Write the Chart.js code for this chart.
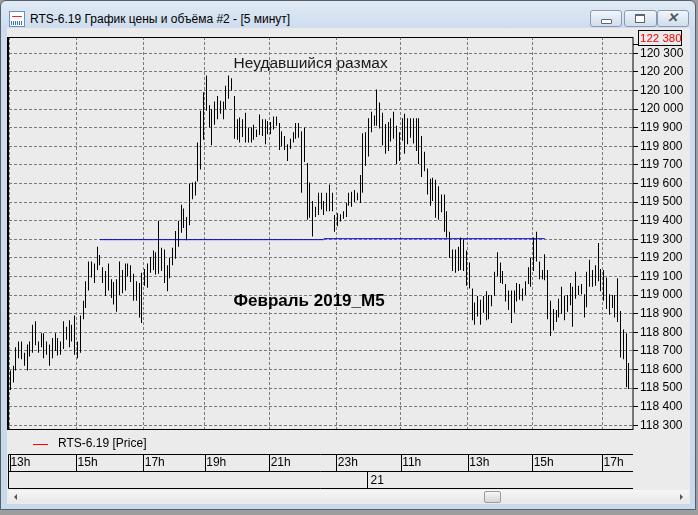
<!DOCTYPE html>
<html>
<head>
<meta charset="utf-8">
<script src="https://cdn.jsdelivr.net/npm/chart.js@4.4.1/dist/chart.umd.min.js"></script>
<style>
  body { margin: 0; width: 698px; height: 515px; overflow: hidden; background: #9d9d9d;
         font-family: "Liberation Sans", Arial, sans-serif; }
  #win { position: absolute; left: 0; top: 0; width: 694px; height: 508px;
         border: 1px solid #55606e; border-radius: 6px 6px 0 0;
         background: linear-gradient(#e1eaf5, #cddcee 28px, #c9d9ec); }
  #client { position: absolute; left: 7px; top: 28px; width: 683px; height: 476px; background: #ebebeb; }
  #title { position: absolute; left: 30px; top: 12px; font-size: 12px; color: #000; white-space: nowrap; }
  #icon { position: absolute; left: 9px; top: 11px; width: 14px; height: 14px; background: #fff; border: 1px solid #6d8fc0; }
  #icon i { position: absolute; left: 2px; top: 4px; width: 10px; height: 1px; background: #e0302a; }
  #icon b { position: absolute; left: 1px; top: 9px; width: 12px; height: 4px; background: repeating-linear-gradient(90deg, #3a6fc4 0 1px, #fff 1px 2px); }
  .btn { position: absolute; top: 10px; height: 15px; border: 1px solid #8a9ab0; border-radius: 3px;
         background: linear-gradient(#f4f7fb, #dfe8f3 50%, #d2ddeb); }
  #bmin { left: 590px; width: 30px; }
  #bres { left: 624px; width: 31px; }
  #bcls { left: 657px; width: 30px; }
  #bmin i { position: absolute; left: 10px; top: 8px; width: 9px; height: 3px; border: 1px solid #5b6675; background: #fff; border-radius: 1px; }
  #bres i { position: absolute; left: 10px; top: 3px; width: 8px; height: 6px; border: 1px solid #5b6675; border-top-width: 2px; background: #fff; }
  #bcls i { position: absolute; left: 9px; top: -1px; font-size: 13px; font-weight: bold; color: #4d5866; }
  #scroll { position: absolute; left: 9px; top: 490px; width: 680px; height: 13px; background: linear-gradient(#f6f6f6, #e8e8e8); }
  #thumb { position: absolute; left: 484px; top: 491px; width: 15px; height: 10px; border: 1px solid #9b9b9b;
           border-radius: 2px; background: linear-gradient(#f7f7f7, #d6d6d6); }
  .arr { position: absolute; top: 494px; width: 0; height: 0; border-top: 3px solid transparent; border-bottom: 3px solid transparent; }
  #al { left: 14px; border-right: 3px solid #555; }
  #ar { left: 680px; border-left: 3px solid #555; }
  canvas { position: absolute; left: 0; top: 0; }
</style>
</head>
<body>
<div id="win"></div>
<div id="client"></div>
<div id="icon"><i></i><b></b></div>
<div id="title">RTS-6.19 График цены и объёма #2 - [5 минут]</div>
<div class="btn" id="bmin"><i></i></div>
<div class="btn" id="bres"><i></i></div>
<div class="btn" id="bcls"><i>✕</i></div>
<div id="scroll"></div>
<div class="arr" id="al"></div>
<div class="arr" id="ar"></div>
<div id="thumb"></div>
<canvas id="chart" width="698" height="515"></canvas>
<script>
// 5-minute bars, high and low of each bar
const highs = [
  118595, 118620, 118720, 118750, 118750, 118690, 118735, 118750, 118840, 118860,
  118750, 118795, 118795, 118750, 118735, 118770, 118795, 118770, 118750, 118860,
  118830, 118865, 118840, 118890, 118750, 118890, 118970, 119075, 119180, 119180,
  119170, 119260, 119215, 119150, 119130, 119170, 119085, 119070, 119085, 119180,
  119135, 119170, 119170, 119160, 119115, 119075, 119065, 119120, 119140, 119170,
  119205, 119240, 119230, 119400, 119255, 119245, 119160, 119200, 119255, 119345,
  119400, 119485, 119465, 119420, 119600, 119605, 119610, 119820, 119990, 120090,
  120180, 120020, 120000, 120040, 120070, 120045, 120040, 120125, 120180, 120165,
  120070, 119945, 119955, 119945, 119980, 119900, 119900, 119915, 119890, 119970,
  119945, 119945, 119935, 119930, 119960, 119960, 119925, 119880, 119855, 119810,
  119840, 119875, 119925, 119925, 119880, 119900, 119710, 119605, 119505, 119475,
  119550, 119550, 119505, 119550, 119595, 119550, 119430, 119440, 119435, 119450,
  119495, 119550, 119555, 119565, 119550, 119645, 119870, 119875, 119950, 119985,
  119965, 120105, 120035, 119980, 119920, 119930, 119950, 119985, 119910, 119875,
  119950, 119975, 119950, 119950, 119950, 119950, 119950, 119855, 119770, 119680,
  119625, 119630, 119620, 119585, 119540, 119540, 119450, 119340, 119245, 119245,
  119260, 119310, 119300, 119240, 119175, 119035, 118960, 118995, 118975, 118995,
  119020, 119000, 119000, 119125, 119230, 119175, 119130, 119060, 119025, 119025,
  119025, 119065, 119060, 119035, 119075, 119150, 119200, 119310, 119340, 119180,
  119135, 119220, 119135, 118970, 118925, 118920, 118980, 119045, 118995, 119000,
  119065, 119045, 119125, 119050, 119060, 119005, 119125, 119190, 119135, 119160,
  119280, 119140, 119135, 119095, 119005, 119000, 119000, 119090, 118915, 118815,
  118795, 118635
];
const lows = [
  118490, 118530, 118595, 118660, 118655, 118620, 118595, 118670, 118690, 118730,
  118690, 118720, 118660, 118680, 118620, 118660, 118700, 118675, 118680, 118710,
  118760, 118720, 118750, 118680, 118660, 118690, 118870, 118930, 119025, 119095,
  119065, 119135, 119160, 119065, 118995, 119025, 118985, 118950, 118910, 119000,
  119010, 119025, 119100, 119070, 118970, 118970, 118880, 118850, 119050, 119040,
  119120, 119135, 119110, 119115, 119130, 119065, 119020, 119090, 119160, 119195,
  119260, 119335, 119360, 119295, 119375, 119515, 119535, 119610, 119675, 119835,
  119990, 119900, 119805, 119915, 119945, 119975, 119945, 120000, 120055, 120100,
  119840, 119835, 119820, 119850, 119820, 119820, 119820, 119835, 119850, 119860,
  119855, 119810, 119865, 119865, 119890, 119910, 119780, 119800, 119780, 119720,
  119785, 119820, 119840, 119845, 119550, 119715, 119405, 119415, 119315, 119420,
  119430, 119460, 119430, 119450, 119450, 119450, 119340, 119370, 119395, 119410,
  119420, 119480, 119475, 119500, 119510, 119495, 119550, 119695, 119745, 119875,
  119910, 119910, 119895, 119805, 119760, 119775, 119825, 119840, 119705, 119720,
  119830, 119760, 119810, 119845, 119815, 119775, 119705, 119635, 119665, 119540,
  119480, 119505, 119415, 119405, 119445, 119340, 119310, 119200, 119130, 119120,
  119130, 119135, 119130, 119050, 119035, 118865, 118840, 118885, 118840, 118905,
  118865, 118870, 118940, 118995, 119100, 119065, 119060, 118965, 118920, 118850,
  118905, 118965, 118975, 118970, 119000, 119060, 119045, 119130, 119180, 119085,
  119085, 119080, 118870, 118780, 118810, 118855, 118880, 118900, 118865, 118910,
  118945, 118830, 118980, 119000, 119005, 118880, 118935, 119045, 119045, 119050,
  119075, 119020, 118970, 118925, 118895, 118930, 118880, 118855, 118665, 118655,
  118505, 118495
];

// time axis: first bar of each labelled hour, and the day row
const hourLabels = ['13h', '15h', '17h', '19h', '21h', '23h', '11h', '13h', '15h', '17h'];
const hourStarts = [0, 24, 48, 70, 93, 117, 140, 164, 187, 212];
const dayLabels = ['21'];
const dayStarts = [128];

const yTicks = [118300, 118400, 118500, 118600, 118700, 118800, 118900, 119000, 119100, 119200, 119300,
                119400, 119500, 119600, 119700, 119800, 119900, 120000, 120100, 120200, 120300];
const lastPrice = '122 380';

// hand-drawn level lines: [from bar, to bar, price]
const levelA = [32, 112, 119298];
const levelB = [112, 191, 119303];
const notes = [
  { text: 'Неудавшийся размах', bar: 80, price: 120242, bold: false, size: 15.5 },
  { text: 'Февраль 2019_M5', bar: 80, price: 118966, bold: true, size: 17 }
];

const labels = Array.from({ length: highs.length + 1 }, (_, i) => i);
const fmt = v => String(v).replace(/(\d)(?=(\d{3})+$)/, '$1 ');

// keep the 1px price bars on whole pixels so they stay sharp
const snapPlugin = {
  id: 'snap',
  afterDatasetsUpdate(chart) {
    chart.getDatasetMeta(0).data.forEach(el => { el.x = Math.floor(el.x) + 0.5; });
  }
};

const framePlugin = {
  id: 'frame',
  afterDraw(chart) {
    const { ctx, chartArea: a, scales: { x, y } } = chart;
    const slot = x.getPixelForValue(1) - x.getPixelForValue(0);
    const edge = i => Math.round(x.getPixelForValue(i) - slot / 2) + 0.5;
    ctx.save();
    ctx.strokeStyle = '#000';
    ctx.lineWidth = 1;
    // plot border
    ctx.strokeRect(a.left - 0.5, a.top + 0.5, a.right - a.left + 0.5, a.bottom - a.top - 1);
    ctx.beginPath(); ctx.moveTo(a.left - 1.5, a.top); ctx.lineTo(a.left - 1.5, a.bottom); ctx.stroke();

    // last price box
    ctx.font = '11.5px "Liberation Sans", Arial, sans-serif';
    ctx.beginPath(); ctx.moveTo(a.right, 44.5); ctx.lineTo(a.right + 5, 44.5); ctx.stroke();
    ctx.strokeRect(638.5, 30.5, 43, 15);
    ctx.fillStyle = '#ff0000';
    ctx.textBaseline = 'middle';
    ctx.textAlign = 'left';
    ctx.fillText(lastPrice, 640, 38.5);

    // legend
    ctx.font = '12px "Liberation Sans", Arial, sans-serif';
    const ds = chart.data.datasets[0];
    ctx.strokeStyle = '#ff0000';
    ctx.beginPath(); ctx.moveTo(33, 444.5); ctx.lineTo(48, 444.5); ctx.stroke();
    ctx.fillStyle = '#000';
    ctx.fillText(ds.label, 58, 444);

    // time axis boxes
    const r1 = 454.5, r2 = 471.5, r3 = 488.5, L = 8.5, R = a.right;
    ctx.strokeStyle = '#000';
    ctx.beginPath();
    [r1, r2, r3].forEach(yy => { ctx.moveTo(L, yy); ctx.lineTo(R, yy); });
    ctx.moveTo(L, r1); ctx.lineTo(L, r3);
    ctx.moveTo(L + 2, r1); ctx.lineTo(L + 2, r2);
    hourStarts.slice(1).forEach(i => { ctx.moveTo(edge(i), r1); ctx.lineTo(edge(i), r2); });
    dayStarts.forEach(i => { ctx.moveTo(edge(i), r2); ctx.lineTo(edge(i), r3); });
    ctx.stroke();
    dayStarts.forEach((i, k) => ctx.fillText(dayLabels[k], edge(i) + 3, 480.5));

    // notes
    notes.forEach(n => {
      ctx.font = (n.bold ? 'bold ' : '') + n.size + 'px "Liberation Sans", Arial, sans-serif';
      ctx.fillStyle = n.bold ? '#000' : '#1a1a1a';
      ctx.fillText(n.text, edge(n.bar), y.getPixelForValue(n.price));
    });
    ctx.restore();
  }
};

new Chart(document.getElementById('chart').getContext('2d'), {
  type: 'bar',
  data: {
    labels: labels,
    datasets: [
      {
        label: 'RTS-6.19 [Price]',
        data: highs.map((h, i) => [lows[i], h]),
        backgroundColor: '#000',
        barThickness: 1,
        inflateAmount: 0,
        grouped: false
      },
      {
        type: 'line',
        data: [{ x: levelA[0], y: levelA[2] }, { x: levelA[1], y: levelA[2] }],
        borderColor: '#0000e0',
        borderWidth: 1,
        pointRadius: 0
      },
      {
        type: 'line',
        data: [{ x: levelB[0], y: levelB[2] }, { x: levelB[1], y: levelB[2] }],
        borderColor: '#0000e0',
        borderWidth: 1,
        pointRadius: 0
      }
    ]
  },
  options: {
    responsive: false,
    animation: false,
    layout: { padding: { left: 9, top: 37, right: 0, bottom: 0 } },
    plugins: {
      legend: { display: false },
      tooltip: { enabled: false }
    },
    scales: {
      x: {
        type: 'category',
        offset: true,
        afterFit: s => { s.height = 85; s.paddingLeft = 0; s.paddingRight = 0; },
        border: { display: false, dash: [3, 2] },
        grid: {
          offset: true,
          drawTicks: false,
          color: c => hourStarts.includes(c.index) ? '#7a7a7a' : 'rgba(0,0,0,0)'
        },
        ticks: {
          autoSkip: false,
          maxRotation: 0,
          minRotation: 0,
          align: 'start',
          padding: 25,
          color: '#000',
          font: { family: '"Liberation Sans", Arial, sans-serif', size: 12 },
          callback: (v, i) => {
            const k = hourStarts.indexOf(i);
            return k >= 0 ? hourLabels[k] : '';
          }
        }
      },
      y: {
        position: 'right',
        min: 118275,
        max: 120387,
        afterFit: s => { s.width = 65; s.paddingTop = 0; s.paddingBottom = 0; },
        afterBuildTicks: s => { s.ticks = yTicks.map(v => ({ value: v })); },
        border: { display: false, dash: [3, 2] },
        grid: {
          color: '#7a7a7a',
          tickColor: '#000',
          tickLength: 5,
          tickBorderDash: []
        },
        ticks: {
          padding: 2,
          color: '#000',
          font: { family: '"Liberation Sans", Arial, sans-serif', size: 12 },
          callback: v => fmt(v)
        }
      }
    }
  },
  plugins: [snapPlugin, framePlugin]
});
</script>
</body>
</html>
